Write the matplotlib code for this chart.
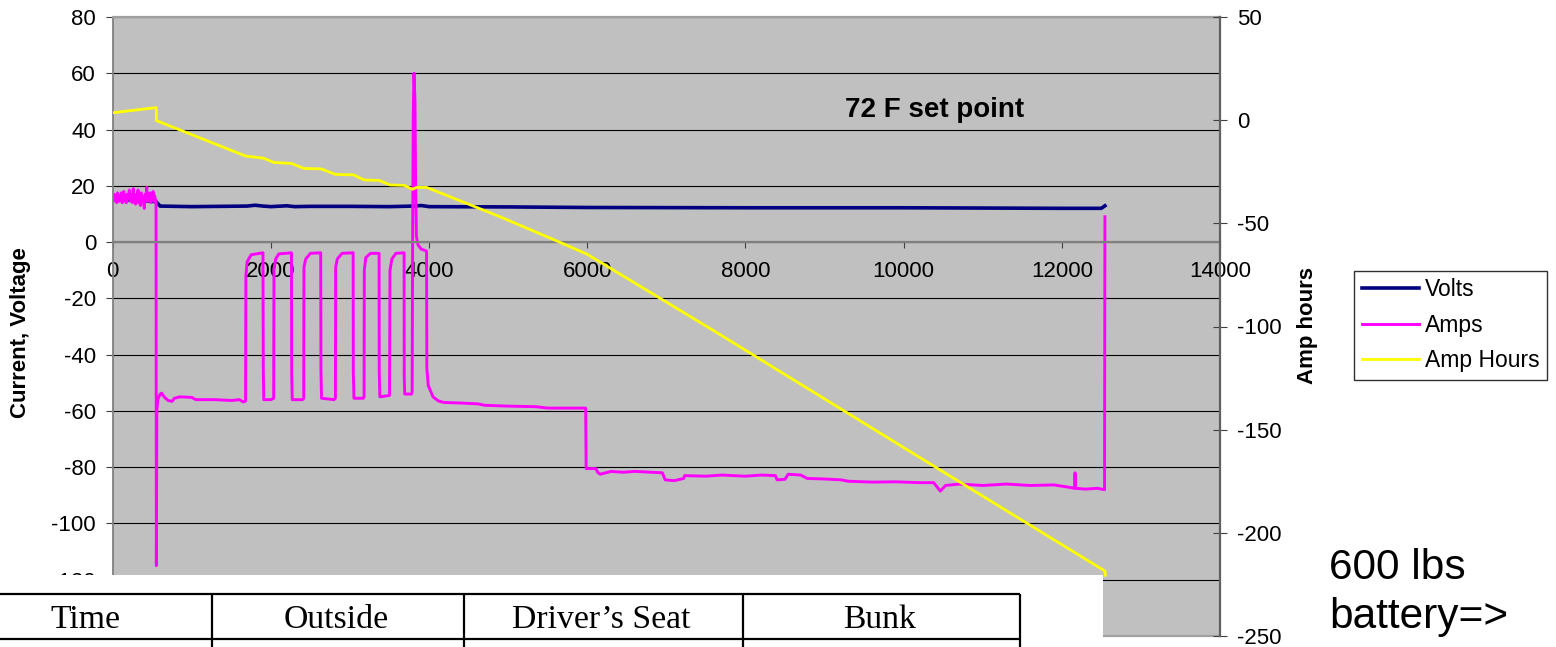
import matplotlib
matplotlib.use("Agg")
import matplotlib.pyplot as plt

plt.rcParams['font.family'] = ['Liberation Sans', 'DejaVu Sans']
plt.rcParams['axes.unicode_minus'] = False

# ---- data (time in seconds) ----
time_volts = [0, 100, 200, 300, 400, 500, 551, 600, 1000, 1700, 1800, 1900, 2000,
              2200, 2300, 2500, 3000, 3500, 3800, 3900, 4000, 5000, 6000, 8000,
              10000, 11000, 12000, 12500, 12545]
volts = [15.3, 15.1, 15.0, 14.9, 14.7, 14.5, 14.3, 12.8, 12.6, 12.8, 13.1, 12.8, 12.6,
         12.9, 12.6, 12.7, 12.7, 12.6, 12.8, 13.0, 12.6, 12.5, 12.3, 12.2,
         12.2, 12.1, 12.0, 12.0, 12.9]

time_amps = [0, 10, 20, 30, 40, 50, 60, 70, 80, 90, 100, 110, 120, 130, 140, 150, 160,
             170, 180, 190, 200, 210, 220, 230, 240, 250, 260, 270, 280, 290, 300,
             310, 320, 330, 340, 350, 360, 370, 380, 390, 400, 410, 420, 430, 440,
             450, 460, 470, 480, 490, 500, 510, 520, 530, 540, 548,
             552, 558, 570, 600, 620, 650, 700, 750, 780, 850, 1000, 1050, 1300, 1500,
             1600, 1650, 1680,
             1684, 1700, 1750, 1900, 1904, 1910, 2000, 2035,
             2039, 2060, 2100, 2260, 2263, 2270, 2400, 2415,
             2418, 2440, 2500, 2630, 2633, 2640, 2800, 2816,
             2819, 2840, 2900, 3040, 3042, 3050, 3170, 3178,
             3181, 3200, 3260, 3368, 3370, 3378, 3500,
             3506, 3530, 3580, 3684, 3686, 3692, 3780, 3786,
             3792, 3800, 3809, 3815, 3822, 3830, 3840, 3860, 3900, 3968, 3972, 3990,
             4050, 4120, 4190, 4400, 4620, 4700, 5000, 5350, 5500, 5800, 5980,
             5986, 6110, 6130, 6165, 6300, 6450, 6600, 6800, 6950, 6985, 7100, 7220,
             7230, 7500, 7700, 8000, 8200, 8380, 8400, 8500, 8540, 8700, 8780, 9000,
             9210, 9300, 9600, 9900, 10200, 10380, 10464, 10530, 10700, 11000, 11300,
             11600, 11900, 12060, 12160, 12167, 12175, 12300, 12450, 12540, 12545]
amps = [16, 14.5, 17, 15, 16.5, 14, 17.5, 15.5, 14.5, 16.5, 15, 17.5, 14, 16, 18,
        15, 16.5, 14, 17, 15.5, 16, 18.5, 14.5, 16, 17, 14, 19, 15, 16.5, 13.5, 17,
        15, 18.5, 14, 16, 13, 17.5, 15, 16, 14, 12, 17, 15.5, 19.5, 14.5, 17, 15,
        17.5, 14, 16.5, 15, 18, 14.5, 16.5, 15, 14,
        -115, -60, -56, -54, -53.7, -55, -56.3, -56.6, -55.5, -55, -55.2, -56, -56, -56.3,
        -56, -56.8, -56.5,
        -12, -7, -4.5, -3.8, -45, -56, -56, -55.5,
        -10, -6, -4.2, -3.8, -47, -56, -56, -55.5,
        -9, -6, -4, -3.8, -45, -55.5, -56, -55.5,
        -9, -6, -4, -3.8, -46, -55.5, -55.5, -55,
        -10, -5.5, -4, -4, -46, -55, -54.5,
        -10, -6, -4, -3.8, -48, -54, -54, -53,
        0, 45, 60, 55, 50, 20, 2, -1, -2.5, -3.2, -45, -51,
        -55, -56.5, -57, -57.2, -57.5, -58, -58.3, -58.5, -59, -59, -59,
        -80.5, -80.5, -81.8, -82.5, -81.5, -81.8, -81.5, -81.8, -82, -84.5, -84.8, -84,
        -83, -83.2, -82.8, -83.2, -82.8, -83, -84.5, -84.3, -82.5, -82.8, -84, -84.2,
        -84.5, -85, -85.3, -85.2, -85.5, -85.5, -88.5, -86.5, -86, -86.5, -86,
        -86.5, -86.3, -87, -87.5, -82, -87.5, -87.8, -87.5, -88, 9]

time_ah = [0, 551, 552, 1681, 1904, 2039, 2263, 2418, 2633, 2819, 3042, 3181, 3370,
           3506, 3686, 3788, 3843, 3970, 4896, 5570, 6000, 7589, 10366, 12545, 12550]
amp_hours = [3.6, 6.1, -0.2, -17.4, -18.4, -20.5, -21.0, -23.4, -23.6, -26.3, -26.5,
             -29.0, -29.2, -31.4, -31.6, -33.5, -32.6, -32.6, -46.8, -57.8, -65.0,
             -101.8, -167.3, -218.5, -220.5]

series_labels = ['Volts', 'Amps', 'Amp Hours']
table_headers = ['Time', 'Outside', 'Driver\u2019s Seat', 'Bunk']

W, H = 1556, 647
fig = plt.figure(figsize=(W / 100, H / 100), dpi=100)

# main plot area (pixel box 112.7..1220 x 17..636)
ax1 = fig.add_axes([112.7 / W, (H - 636) / H, (1220 - 112.7) / W, (636 - 17) / H])
ax1.set_facecolor('#c0c0c0')
ax1.set_xlim(0, 14000)
ax1.set_ylim(-140, 80)
ax1.set_xticks(range(0, 14001, 2000))
left_ticks = list(range(-140, 81, 20))
ax1.set_yticks(left_ticks)
# the -140 label sits under the pasted table in the original
ax1.set_yticklabels(['' if v == -140 else str(v) for v in left_ticks])
ax1.set_axisbelow(True)
ax1.yaxis.grid(True, color='black', linewidth=0.8)

ax1.spines['bottom'].set_position(('data', 0))
ax1.spines['bottom'].set_color('#808080')
ax1.spines['bottom'].set_linewidth(1.6)
ax1.spines['left'].set_color('#808080')
ax1.spines['left'].set_linewidth(1.3)
ax1.spines['top'].set_color('#a0a0a0')
ax1.spines['top'].set_linewidth(1.6)
ax1.spines['right'].set_visible(False)
ax1.axhline(-140, color='#a0a0a0', linewidth=1.6, clip_on=False)

ax1.tick_params(axis='x', direction='out', length=4.5, width=0.8, colors='#404040',
                labelcolor='black', labelsize=16, pad=9)
ax1.tick_params(axis='y', direction='out', length=5, width=0.8, colors='#404040',
                labelcolor='black', labelsize=16, pad=7)

l_volts, = ax1.plot(time_volts, volts, color='#000080', linewidth=2.6)
l_amps, = ax1.plot(time_amps, amps, color='#ff00ff', linewidth=2.1)

ax2 = ax1.twinx()
ax2.set_ylim(-250, 50)
ax2.set_yticks(range(-250, 51, 50))
for s in ['left', 'top', 'bottom']:
    ax2.spines[s].set_visible(False)
ax2.spines['right'].set_color('#606060')
ax2.spines['right'].set_linewidth(1.6)
ax2.tick_params(axis='y', direction='inout', length=10, width=0.8, colors='#404040',
                labelcolor='black', labelsize=16, pad=7)
l_ah, = ax2.plot(time_ah, amp_hours, color='#ffff00', linewidth=2.0)

# axis titles and notes
fig.text(21 / W, 1 - 333 / H, 'Current, Voltage', rotation=90, ha='center',
         va='center', fontsize=16, fontweight='bold')
fig.text(1308 / W, 1 - 326 / H, 'Amp hours', rotation=90, ha='center',
         va='center', fontsize=16, fontweight='bold')
fig.text(935 / W, 1 - 117 / H, '72 F set point', ha='center', va='baseline',
         fontsize=20, fontweight='bold')
fig.text(1329 / W, 1 - 579 / H, '600 lbs', ha='left', va='baseline', fontsize=30.5)
fig.text(1329 / W, 1 - 628 / H, 'battery=>', ha='left', va='baseline', fontsize=30.5)

fig.legend([l_volts, l_amps, l_ah], series_labels, loc='upper left',
           bbox_to_anchor=(1354 / W, 1 - 270.7 / H), borderaxespad=0,
           fontsize=16.5, frameon=True, fancybox=False, edgecolor='#303030',
           framealpha=1, handlelength=2.5, handletextpad=0.25, borderpad=0.33,
           labelspacing=0.55)

# white table pasted over the lower left of the chart
tab = fig.add_axes([0, 0, 1103 / W, (H - 575) / H])
tab.set_xlim(0, 1103)
tab.set_ylim(H, 575)
tab.axis('off')
tab.add_patch(plt.Rectangle((0, 575), 1103, H - 575, color='white', zorder=0))
col_edges = [-37, 211.7, 464.3, 742.7, 1020]
for yl in [594, 639]:
    tab.plot([0, col_edges[-1]], [yl, yl], color='black', linewidth=1.6,
             solid_capstyle='butt')
for xe in col_edges[1:]:
    tab.plot([xe, xe], [594, H + 2], color='black', linewidth=1.6,
             solid_capstyle='butt')
for i, head in enumerate(table_headers):
    cx = (col_edges[i] + col_edges[i + 1]) / 2 - 2
    tab.text(cx, 628, head, ha='center', va='baseline', fontsize=24.3,
             family=['Liberation Serif', 'DejaVu Serif'])

fig.savefig('out.png', dpi=100)
